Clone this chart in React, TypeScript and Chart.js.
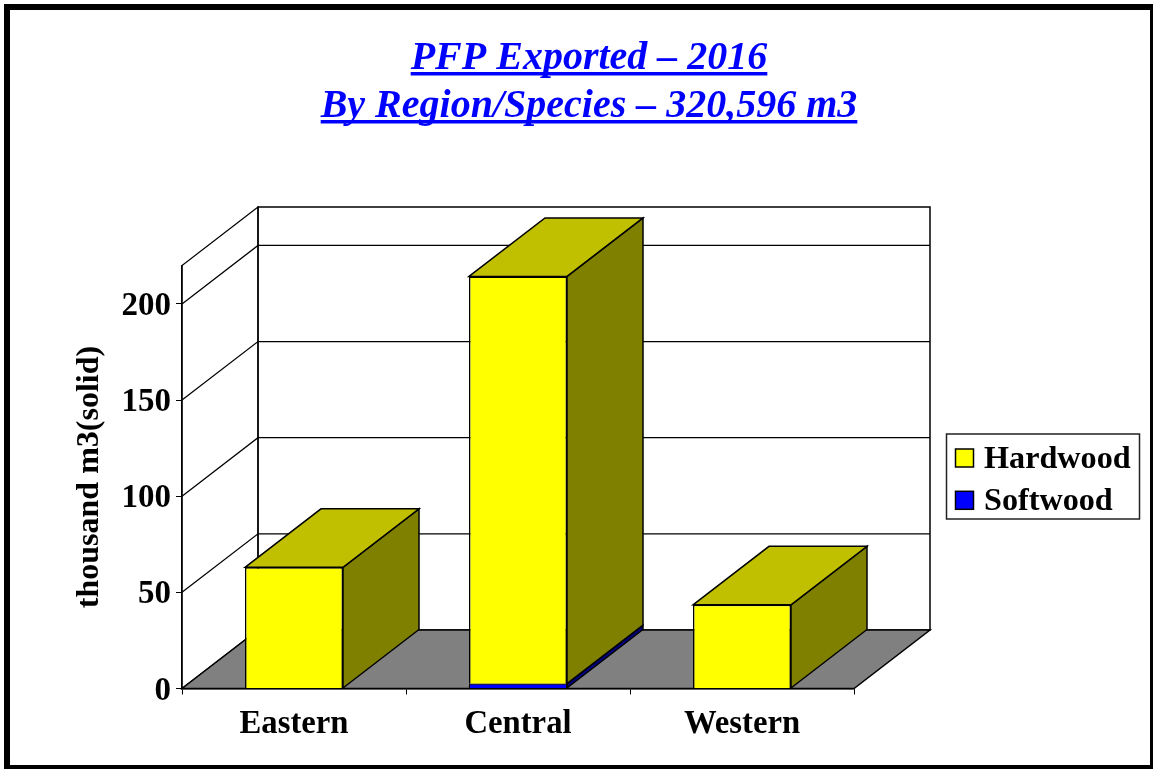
import React, { useEffect, useRef } from "react";
import { Chart, registerables } from "chart.js";

Chart.register(...registerables);

const categories = ["Eastern", "Central", "Western"];
const softwood = [0, 2.5, 0];
const hardwood = [63, 211.8, 43.5];
const titleLines = ["PFP Exported – 2016", "By Region/Species – 320,596 m3"];
const yAxisTitle = "thousand m3(solid)";
const yMax = 220;
const yStep = 50;

const FONT = "'Liberation Serif', 'Times New Roman', serif";
const DX = 76;
const DY = 58.5;
const BLACK = "#000000";

const FACE_COLORS: Record<string, { top: string; side: string }> = {
  Hardwood: { top: "#C0C000", side: "#808000" },
  Softwood: { top: "#0000A0", side: "#000080" },
};

function poly(ctx: CanvasRenderingContext2D, pts: number[][], fill: string | null, lw = 1.5) {
  ctx.beginPath();
  pts.forEach((p, i) => (i ? ctx.lineTo(p[0], p[1]) : ctx.moveTo(p[0], p[1])));
  ctx.closePath();
  if (fill) {
    ctx.fillStyle = fill;
    ctx.fill();
  }
  ctx.lineWidth = lw;
  ctx.strokeStyle = BLACK;
  ctx.lineJoin = "miter";
  ctx.stroke();
}

const frame3d = {
  id: "frame3d",
  beforeDraw(chart: any) {
    const { ctx, width, height } = chart;
    ctx.save();
    ctx.fillStyle = "#FFFFFF";
    ctx.fillRect(0, 0, width, height);
    ctx.strokeStyle = BLACK;
    ctx.lineWidth = 6;
    ctx.strokeRect(7, 7, width - 7, height - 8);
    ctx.restore();
  },
  afterLayout(chart: any) {
    const t = chart.titleBlock;
    if (t) {
      t.left = 589 - 320;
      t.right = 589 + 320;
    }
  },
  beforeDatasetsDraw(chart: any) {
    const { ctx, chartArea, scales } = chart;
    const { left, right, bottom, top } = chartArea;
    const y = scales.y;
    ctx.save();
    poly(ctx, [[left, bottom], [left, top], [left + DX, top - DY], [left + DX, bottom - DY]], null, 1.25);
    poly(ctx, [[left + DX, top - DY], [right + DX, top - DY], [right + DX, bottom - DY], [left + DX, bottom - DY]], null, 1.5);
    y.ticks.forEach((tick: any) => {
      if (tick.value === 0) return;
      const py = y.getPixelForValue(tick.value);
      ctx.beginPath();
      ctx.moveTo(left, py);
      ctx.lineTo(left + DX, py - DY);
      ctx.lineTo(right + DX, py - DY);
      ctx.lineWidth = 1.25;
      ctx.strokeStyle = BLACK;
      ctx.stroke();
    });
    poly(ctx, [[left, bottom], [right, bottom], [right + DX, bottom - DY], [left + DX, bottom - DY]], "#808080", 1.5);
    ctx.restore();
  },
  afterDatasetsDraw(chart: any) {
    const { ctx } = chart;
    ctx.save();
    const n = chart.data.datasets.length;
    for (let d = 0; d < n; d++) {
      const ds = chart.data.datasets[d];
      const colors = FACE_COLORS[ds.label];
      chart.getDatasetMeta(d).data.forEach((bar: any, i: number) => {
        if (!ds.data[i]) return;
        const p = bar.getProps(["x", "y", "base", "width"], true);
        const l = p.x - p.width / 2;
        const r = p.x + p.width / 2;
        poly(ctx, [[r, p.base], [r + DX, p.base - DY], [r + DX, p.y - DY], [r, p.y]], colors.side);
        const isTop = !chart.data.datasets.slice(d + 1).some((o: any) => o.data[i]);
        if (isTop) {
          poly(ctx, [[l, p.y], [l + DX, p.y - DY], [r + DX, p.y - DY], [r, p.y]], colors.top);
        }
      });
    }
    ctx.restore();
  },
  afterDraw(chart: any) {
    const { ctx } = chart;
    ctx.save();
    ctx.font = `italic bold 40px ${FONT}`;
    ctx.fillStyle = "#0000FF";
    const ulY = [72, 120];
    titleLines.forEach((line, i) => {
      const w = ctx.measureText(line).width;
      ctx.fillRect(589 - w / 2, ulY[i], w, 3.5);
    });
    ctx.strokeStyle = "#222222";
    ctx.lineWidth = 1.5;
    ctx.fillStyle = "#FFFFFF";
    ctx.fillRect(946.5, 434, 193, 85);
    ctx.strokeRect(946.5, 434, 193, 85);
    const entries = chart.data.datasets.slice().reverse();
    entries.forEach((ds: any, i: number) => {
      const sy = 449 + i * 42.3;
      ctx.fillStyle = ds.backgroundColor;
      ctx.fillRect(955.5, sy, 18, 18);
      ctx.strokeStyle = BLACK;
      ctx.strokeRect(955.5, sy, 18, 18);
      ctx.fillStyle = BLACK;
      ctx.font = `bold 32.2px ${FONT}`;
      ctx.textAlign = "left";
      ctx.textBaseline = "alphabetic";
      ctx.fillText(ds.label, 984, sy + 19);
    });
    ctx.restore();
  },
};

// the y tick labels sit a little lower than the font's "middle" baseline gives
function nudgeLabels(s: any, dy: number) {
  if (s.__nudged) return;
  s.__nudged = true;
  const orig = s._computeLabelItems;
  s._computeLabelItems = function (area: any) {
    return orig.call(this, area).map((it: any) => ({
      ...it,
      options: { ...it.options, translation: [it.options.translation[0], it.options.translation[1] + dy] },
    }));
  };
}

export default function App() {
  const ref = useRef<HTMLCanvasElement>(null);
  useEffect(() => {
    const chart = new Chart(ref.current!, {
      type: "bar",
      data: {
        labels: categories,
        datasets: [
          { label: "Softwood", data: softwood, backgroundColor: "#0000FF", borderColor: BLACK, borderWidth: 1 },
          { label: "Hardwood", data: hardwood, backgroundColor: "#FFFF00", borderColor: BLACK, borderWidth: 1.5 },
        ],
      },
      plugins: [frame3d],
      options: {
        animation: false,
        responsive: false,
        maintainAspectRatio: false,
        barPercentage: 0.4375,
        categoryPercentage: 1,
        layout: { padding: { top: 35, left: 71, right: 299, bottom: 0 } },
        plugins: {
          legend: { display: false },
          tooltip: { enabled: false },
          title: {
            display: true,
            text: titleLines,
            color: "#0000FF",
            font: { family: FONT, size: 40, weight: "bold", style: "italic", lineHeight: 1.2 },
            padding: { top: 0, bottom: 134.5 },
          },
        },
        scales: {
          x: {
            stacked: true,
            afterFit: (s: any) => {
              s.height = 80.5;
            },
            border: { display: true, color: BLACK, width: 1.5 },
            grid: { drawOnChartArea: false, drawTicks: true, tickLength: 6, color: BLACK, lineWidth: 1 },
            ticks: {
              color: BLACK,
              font: { family: FONT, size: 32.7, weight: "bold" },
              padding: 10,
              maxRotation: 0,
            },
          },
          y: {
            stacked: true,
            min: 0,
            max: yMax,
            afterFit: (s: any) => {
              s.width = 111;
              nudgeLabels(s, 2.5);
            },
            border: { display: true, color: BLACK, width: 1.5 },
            grid: { drawOnChartArea: false, drawTicks: true, tickLength: 6, color: BLACK, lineWidth: 1 },
            ticks: {
              stepSize: yStep,
              includeBounds: false,
              color: BLACK,
              font: { family: FONT, size: 33, weight: "bold" },
              padding: 5,
            },
            title: {
              display: true,
              text: yAxisTitle,
              color: BLACK,
              font: { family: FONT, size: 32, weight: "bold", lineHeight: 1.2 },
              padding: 0,
            },
          },
        },
      } as any,
    });
    return () => chart.destroy();
  }, []);
  return (
    <canvas
      ref={ref}
      width={1153}
      height={769}
      style={{ position: "absolute", left: 0, top: 0, display: "block" }}
    />
  );
}
